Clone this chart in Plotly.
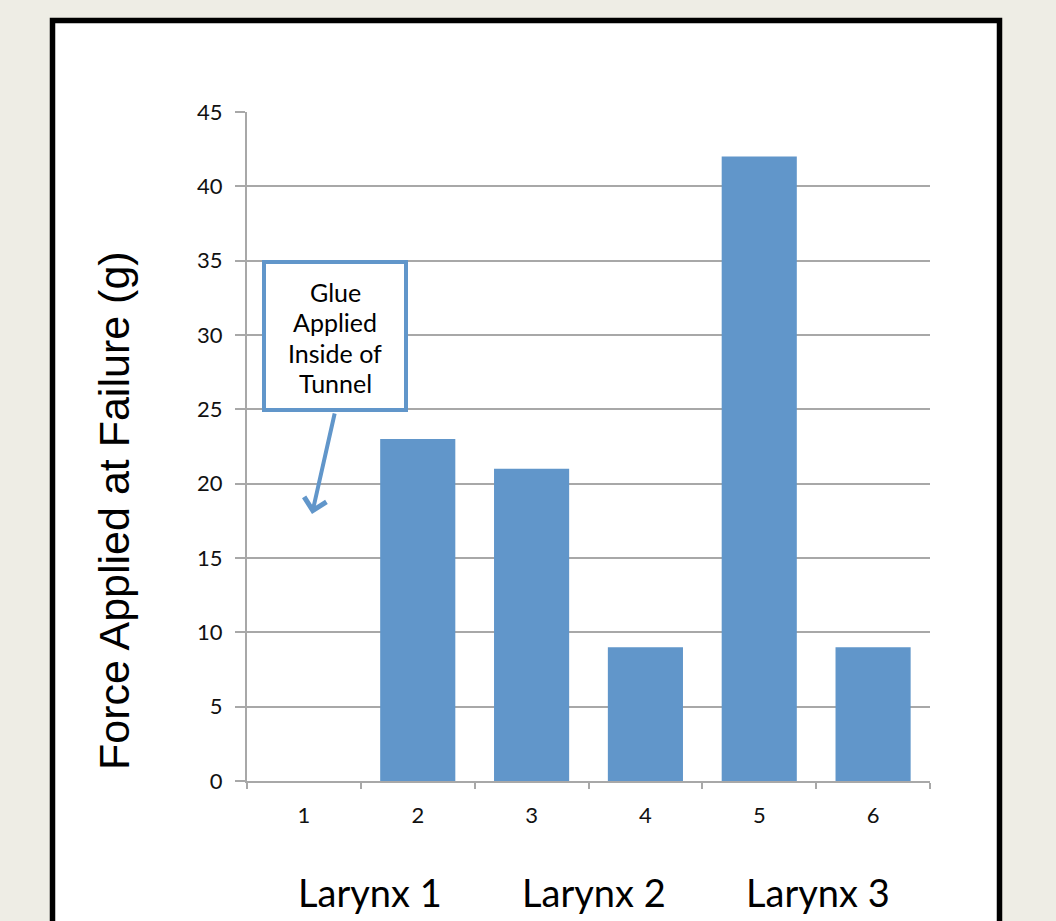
import plotly.graph_objects as go

# Sample positions and measured force at failure
samples = ["1", "2", "3", "4", "5", "6"]
force_g = [0, 23, 21, 9, 42, 9]
groups = ["Larynx 1", "Larynx 2", "Larynx 3"]
y_ticks = [0, 5, 10, 15, 20, 25, 30, 35, 40, 45]
callout_lines = ["Glue", "Applied", "Inside of", "Tunnel"]

BAR_BLUE = "#6196ca"
GRID = "#a8a8a8"
PAGE_BG = "#eeede5"
SANS = "Lato, Open Sans, sans-serif"
TICK_FONT = dict(family=SANS, size=22, color="#111111")

W, H = 1056, 921
M = dict(l=247, r=126, t=112, b=140)
PW, PH = W - M["l"] - M["r"], H - M["t"] - M["b"]


def px_x(p):
    return (p - M["l"]) / PW


def px_y(p):
    return (H - M["b"] - p) / PH


fig = go.Figure(
    go.Bar(x=samples, y=force_g, marker=dict(color=BAR_BLUE, line=dict(width=0)),
           width=0.66, showlegend=False)
)

fig.update_layout(
    width=W, height=H, margin=M,
    paper_bgcolor=PAGE_BG, plot_bgcolor="rgba(0,0,0,0)",
    bargap=0.34,
)

fig.update_xaxes(
    type="category", categoryorder="array", categoryarray=samples,
    tickson="boundaries", ticks="outside", ticklen=6, tickwidth=2, tickcolor=GRID,
    showline=True, linecolor=GRID, linewidth=2, showgrid=False,
    tickfont=TICK_FONT, ticklabelstandoff=14,
)
fig.update_yaxes(
    range=[0, 45], tickvals=y_ticks, ticks="outside", ticklen=10, tickwidth=2,
    tickcolor=GRID, showline=True, linecolor=GRID, linewidth=2,
    showgrid=True, gridcolor=GRID, gridwidth=2, zeroline=False,
    tickfont=TICK_FONT, ticklabelstandoff=8,
)

# White slide panel with a heavy black frame
fig.add_shape(type="rect", xref="paper", yref="paper", layer="below",
              x0=px_x(52.5), x1=px_x(999.5), y0=px_y(960), y1=px_y(20.5),
              fillcolor="white", line=dict(color="black", width=5.5))

# Y axis title
fig.add_annotation(xref="paper", yref="paper", x=px_x(114), y=px_y(511),
                   xanchor="center", yanchor="middle",
                   text="Force Applied at Failure (g)", textangle=-90, showarrow=False,
                   font=dict(family="Liberation Sans, Arial, sans-serif", size=43, color="black"))

# Group labels beneath the sample numbers
for name, cx in zip(groups, [370, 594, 818]):
    fig.add_annotation(xref="paper", yref="paper", x=px_x(cx), y=px_y(892),
                       xanchor="center", yanchor="middle",
                       text=name, showarrow=False,
                       font=dict(family=SANS, size=38, color="black"))

# Callout box with arrow
fig.add_shape(type="rect", xref="paper", yref="paper",
              x0=px_x(264), x1=px_x(406), y0=px_y(410), y1=px_y(262),
              fillcolor="white", line=dict(color=BAR_BLUE, width=4))
for line, cy in zip(callout_lines, [292, 322, 353, 383]):
    fig.add_annotation(xref="paper", yref="paper", x=px_x(335), y=px_y(cy),
                       xanchor="center", yanchor="middle",
                       text=line, showarrow=False,
                       font=dict(family=SANS, size=25, color="black"))
fig.add_annotation(xref="paper", yref="paper", x=px_x(312), y=px_y(514),
                   axref="pixel", ayref="pixel", ax=335 - 312, ay=412 - 514,
                   text="", showarrow=True, arrowhead=4, arrowsize=1.1,
                   arrowwidth=4, arrowcolor=BAR_BLUE)

fig.write_html("out.html")
